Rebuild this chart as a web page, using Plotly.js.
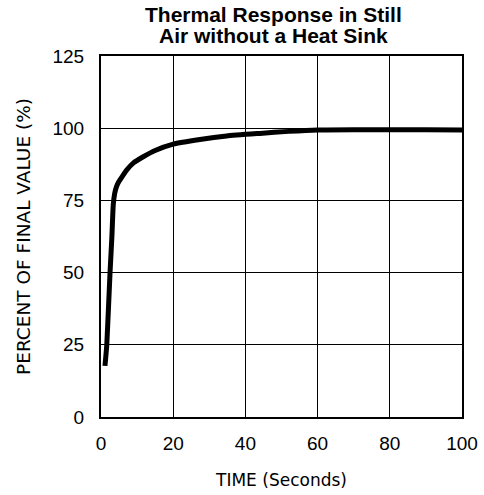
<!DOCTYPE html>
<html>
<head>
<meta charset="utf-8">
<script src="https://cdn.plot.ly/plotly-3.0.1.min.js"></script>
<style>html,body{margin:0;padding:0;background:#fff;}#chart{width:484px;height:495px;}</style>
</head>
<body>
<div id="chart"></div>
<script>
// Data
var timeSeconds = [1.1, 1.6, 2.5, 3.0, 3.4, 3.8, 4.3, 5.0, 6.0, 7.1, 9.0, 11.7, 15.0, 20.0, 27.4, 34.8, 44.0, 52.0, 60.0, 70.0, 80.0, 90.0, 100.0];
var percentFinal = [17.7, 25, 50, 62, 73.5, 77.5, 79.8, 81.6, 83.5, 85.5, 88.0, 90.1, 92.3, 94.5, 96.1, 97.3, 98.2, 98.9, 99.4, 99.5, 99.5, 99.5, 99.4];
var xTickVals = [0, 20, 40, 60, 80, 100];
var yTickVals = [0, 25, 50, 75, 100, 125];
var titleLines = ["Thermal Response in Still", "Air without a Heat Sink"];
var xTitle = "TIME (Seconds)";
var yTitle = "PERCENT OF FINAL VALUE (%)";

var sans = "Liberation Sans, Arial, sans-serif";
var wideSans = "DejaVu Sans, Liberation Sans, sans-serif";
var tickFont = {family: sans, size: 19, color: "#000"};

var trace = {
  x: timeSeconds,
  y: percentFinal,
  type: "scatter",
  mode: "lines",
  line: {color: "#000", width: 5, shape: "spline", smoothing: 0.5},
  hoverinfo: "skip"
};

var layout = {
  width: 484,
  height: 495,
  margin: {l: 101, r: 22, t: 55.5, b: 77.5},
  paper_bgcolor: "#fff",
  plot_bgcolor: "#fff",
  showlegend: false,
  xaxis: {
    range: [0, 100],
    tickvals: xTickVals,
    ticktext: xTickVals.map(String),
    ticks: "",
    showgrid: true,
    gridcolor: "#000",
    gridwidth: 1.3,
    zeroline: false,
    showline: true,
    linecolor: "#000",
    linewidth: 2,
    mirror: true,
    tickfont: tickFont,
    ticklabelstandoff: 8,
    title: {text: xTitle, font: {family: wideSans, size: 17, color: "#000"}, standoff: 21}
  },
  yaxis: {
    range: [0, 125],
    tickvals: yTickVals,
    ticktext: yTickVals.map(String),
    ticks: "",
    showgrid: true,
    gridcolor: "#000",
    gridwidth: 1.3,
    zeroline: false,
    showline: true,
    linecolor: "#000",
    linewidth: 2,
    mirror: true,
    tickfont: tickFont,
    ticklabelstandoff: 11,
    title: {text: yTitle, font: {family: wideSans, size: 18.5, color: "#000"}, standoff: 17}
  },
  annotations: [
    {text: "<b>" + titleLines[0] + "</b>", xref: "paper", yref: "paper", x: 0.479, y: 1.114, xanchor: "center", yanchor: "middle", showarrow: false,
     font: {family: sans, size: 21, color: "#000"}},
    {text: "<b>" + titleLines[1] + "</b>", xref: "paper", yref: "paper", x: 0.479, y: 1.056, xanchor: "center", yanchor: "middle", showarrow: false,
     font: {family: sans, size: 21, color: "#000"}}
  ]
};

Plotly.newPlot("chart", [trace], layout, {staticPlot: true, displayModeBar: false});
</script>
</body>
</html>
